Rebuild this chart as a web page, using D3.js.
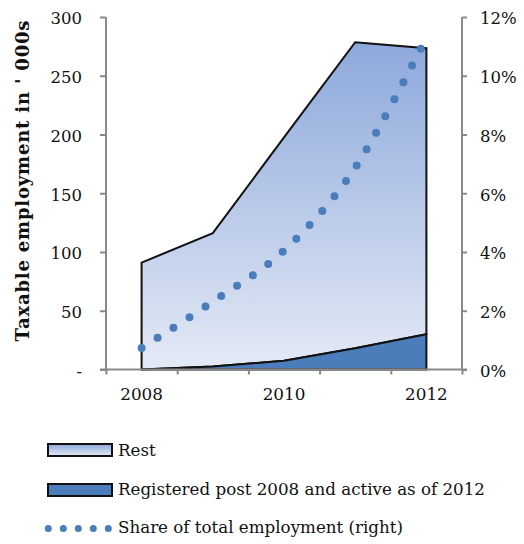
<!DOCTYPE html>
<html>
<head>
<meta charset="utf-8">
<script src="https://cdn.jsdelivr.net/npm/d3@7/dist/d3.min.js"></script>
<style>
  html, body { margin: 0; padding: 0; background: #fff; }
  svg { display: block; }
  text { font-family: "DejaVu Serif", serif; fill: #111; }
</style>
</head>
<body>
<svg id="chart" width="524" height="544"></svg>
<script>
// Taxable employment ('000s) by year, stacked, plus share of total employment
const categories = ["2008", "2009", "2010", "2011", "2012"];
const registered = [0, 2.5, 7.5, 18, 30];
const rest = [91, 113.5, 190, 260.5, 243.5];
const share = [0.73, 2.31, 4.05, 6.87, 11.3];

const leftTicks = [0, 50, 100, 150, 200, 250, 300];
const rightTicks = [0, 2, 4, 6, 8, 10, 12];
const xLabels = ["2008", "2010", "2012"];
const legendLabels = ["Rest", "Registered post 2008 and active as of 2012", "Share of total employment (right)"];
const yTitle = "Taxable employment in ' 000s";

const svg = d3.select("#chart");
const axisColor = "#898989";
const blue = "#4a7dba";

const plot = { left: 106, right: 462, top: 17, bottom: 369.5 };

const x = d3.scaleBand().domain(categories).range([plot.left, plot.right]).padding(0);
const xc = c => x(c) + x.bandwidth() / 2;
const xEdge = d3.scaleLinear().domain([0, categories.length]).range([plot.left, plot.right]);
const y = d3.scaleLinear().domain([0, 300]).range([plot.bottom, plot.top]);
const yR = d3.scaleLinear().domain([0, 12]).range([plot.bottom, plot.top]);

// gradient for the "Rest" area
const defs = svg.append("defs");
const grad = defs.append("linearGradient").attr("id", "restGrad")
  .attr("x1", 0).attr("y1", 0).attr("x2", 0).attr("y2", 1);
grad.append("stop").attr("offset", "0%").attr("stop-color", "#8da8db");
grad.append("stop").attr("offset", "100%").attr("stop-color", "#e4eaf6");

// stacked areas
const table = categories.map((c, i) => ({ year: c, registered: registered[i], rest: rest[i] }));
const stack = d3.stack().keys(["registered", "rest"])(table);
const area = d3.area()
  .x(d => xc(d.data.year))
  .y0(d => y(d[0]))
  .y1(d => y(d[1]));

svg.append("path").datum(stack[1]).attr("d", area)
  .attr("fill", "url(#restGrad)").attr("stroke", "#111").attr("stroke-width", 2)
  .attr("stroke-linejoin", "miter");
svg.append("path").datum(stack[0]).attr("d", area)
  .attr("fill", blue).attr("stroke", "#111").attr("stroke-width", 2);

// axes
const gx = svg.append("g").attr("transform", `translate(0,${plot.bottom})`)
  .call(d3.axisBottom(xEdge).tickValues(d3.range(categories.length + 1)).tickSize(5).tickFormat(""));
const gxl = svg.append("g").attr("transform", `translate(0,${plot.bottom})`)
  .call(d3.axisBottom(x).tickValues(xLabels).tickSize(0).tickPadding(19));
gxl.select(".domain").remove();
gxl.selectAll("text").attr("font-size", 16.8).attr("fill", "#111").attr("font-family", "DejaVu Serif");

const gl = svg.append("g").attr("transform", `translate(${plot.left},0)`)
  .call(d3.axisLeft(y).tickValues(leftTicks).tickSize(6).tickPadding(18)
    .tickFormat(d => d === 0 ? "-" : d3.format("d")(d)));
gl.selectAll("text").attr("font-size", 16.5).attr("fill", "#111").attr("font-family", "DejaVu Serif").attr("dy", "0.42em");

const gr = svg.append("g").attr("transform", `translate(${plot.right},0)`)
  .call(d3.axisRight(yR).tickValues(rightTicks).tickSize(5).tickPadding(13)
    .tickFormat(d => d + "%"));
gr.selectAll("text").attr("font-size", 16.5).attr("fill", "#111").attr("font-family", "DejaVu Serif").attr("dy", "0.42em");

[gx, gl, gr].forEach(g => {
  g.select(".domain").attr("stroke", axisColor).attr("stroke-width", 2);
  g.selectAll(".tick line").attr("stroke", axisColor).attr("stroke-width", 2);
});
gx.select(".domain").attr("d", `M${plot.left - 6},0H${plot.right + 5}`);
gl.select(".domain").attr("d", `M0,${plot.top}V${plot.bottom}`);
gr.select(".domain").attr("d", `M0,${plot.top}V${plot.bottom}`);

// share line, smoothed, drawn as round dots
const line = d3.line().x((d, i) => xc(categories[i])).y(d => yR(d)).curve(d3.curveCardinal.tension(0));
svg.append("path").datum(share).attr("d", line)
  .attr("fill", "none").attr("stroke", blue).attr("stroke-width", 8)
  .attr("stroke-linecap", "round").attr("stroke-dasharray", "0 19");

// y-axis title
svg.append("text")
  .attr("transform", `translate(29,181) rotate(-90)`)
  .attr("text-anchor", "middle")
  .attr("font-size", 18).attr("font-weight", "bold")
  .attr("textLength", 321).attr("lengthAdjust", "spacing")
  .text(yTitle);

// legend
const lg = svg.append("g");
const rows = [456, 495, 533];
lg.append("rect").attr("x", 48).attr("y", 444).attr("width", 64).attr("height", 12)
  .attr("fill", "url(#restGrad)").attr("stroke", "#111").attr("stroke-width", 2);
lg.append("rect").attr("x", 48).attr("y", 484).attr("width", 64).attr("height", 12)
  .attr("fill", blue).attr("stroke", "#111").attr("stroke-width", 2);
lg.append("path").attr("d", "M48.3,528.5H110")
  .attr("stroke", blue).attr("stroke-width", 7).attr("stroke-linecap", "round")
  .attr("stroke-dasharray", "0 15");
lg.selectAll("text.leg").data(legendLabels).join("text").attr("class", "leg")
  .attr("x", 118).attr("y", (d, i) => rows[i])
  .attr("font-size", 16.7)
  .text(d => d);
</script>
</body>
</html>
